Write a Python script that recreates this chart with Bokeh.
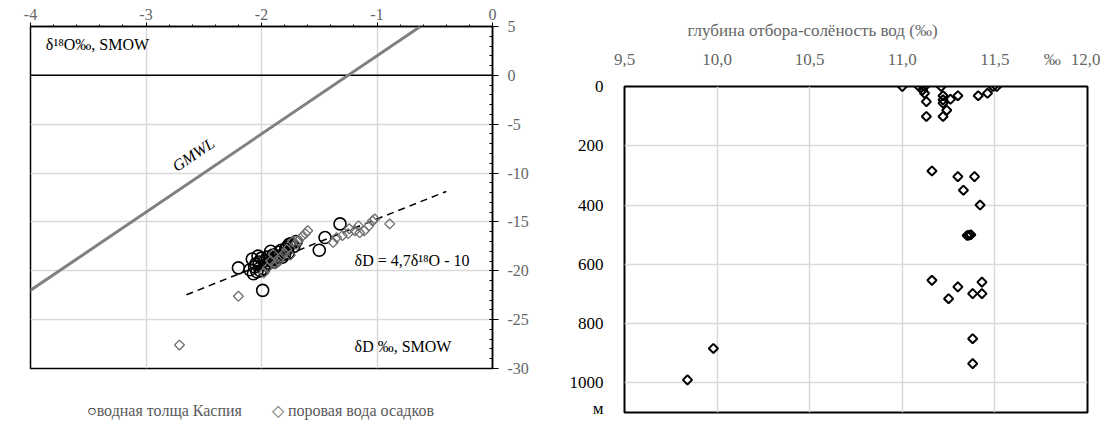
import numpy as np
from bokeh.plotting import figure
from bokeh.models import (Range1d, SingleIntervalTicker, FixedTicker, CustomJSTickFormatter,
                          Slope, Span, Div)
from bokeh.layouts import row, column
from bokeh.embed import file_html
from bokeh.resources import INLINE
from bokeh.core.properties import value

# ---------------- data: left chart (δ18O vs δD) ----------------
caspian_d18o = [-2.20, -1.99, -2.02, -2.05, -2.08, -2.10, -2.03, -2.00, -1.97, -1.95,
                -2.06, -2.04, -1.98, -1.96, -1.93, -1.90, -1.88, -1.85, -1.83, -1.80,
                -1.78, -1.76, -1.74, -1.72, -1.70, -1.50, -1.45, -1.32, -2.07, -2.01,
                -1.94, -1.87, -1.82, -1.79, -1.77, -1.92, -1.89, -1.86]
caspian_dD = [-19.7, -22.0, -19.1, -19.3, -18.8, -19.9, -18.5, -18.7, -19.0, -18.6,
              -19.6, -20.1, -19.8, -19.4, -18.9, -18.4, -18.7, -18.1, -17.9, -18.3,
              -17.6, -17.3, -17.2, -17.5, -17.0, -17.9, -16.6, -15.2, -20.3, -20.0,
              -19.2, -18.9, -18.6, -17.8, -18.2, -18.0, -19.1, -18.5]
pore_d18o = [-2.71, -2.20, -1.98, -1.95, -1.92, -1.90, -1.88, -1.85, -1.83, -1.80,
             -1.78, -1.75, -1.73, -1.70, -1.68, -1.65, -1.62, -1.60, -1.38, -1.35,
             -1.30, -1.25, -1.24, -1.19, -1.16, -1.15, -1.11, -1.07, -1.04, -1.02, -0.89]
pore_dD = [-27.6, -22.6, -20.2, -19.7, -19.0, -18.3, -19.3, -19.0, -18.6, -18.2,
           -17.8, -18.4, -17.0, -17.3, -16.9, -16.5, -16.2, -15.9, -17.1, -16.6,
           -16.4, -16.2, -15.7, -15.9, -15.4, -16.1, -15.9, -15.4, -14.9, -14.7, -15.2]
legend_labels = ["водная толща Каспия", "поровая вода осадков"]

gmwl_slope, gmwl_intercept = 8.0, 10.0
fit_slope, fit_intercept = 4.7, -10.0
fit_x = [-2.65, -0.40]

# ---------------- data: right chart (salinity vs depth) ----------------
salinity = [11.00, 11.09, 11.12, 11.21, 11.49, 11.51, 11.11, 11.12, 11.13, 11.22,
            11.22, 11.22, 11.26, 11.30, 11.41, 11.46, 11.24, 11.13, 11.22, 11.16,
            11.30, 11.39, 11.33, 11.42, 11.36, 11.37, 11.35, 11.16, 11.30, 11.43,
            11.25, 11.38, 11.43, 11.38, 11.38, 9.98, 9.84]
depth = [0, 0, 0, 0, 0, 0, 12, 23, 51, 31,
         45, 56, 43, 31, 31, 23, 80, 101, 101, 285,
         304, 304, 350, 400, 502, 500, 503, 654, 676, 660,
         716, 699, 699, 851, 935, 884, 990]
sal_ticks = [9.5, 10.0, 10.5, 11.0, 11.5, 11.81, 12.0]   # 11.81 carries the "‰" unit mark
depth_ticks = [0, 200, 400, 600, 800, 1000, 1088]         # 1088 carries the "м" unit mark

SERIF = "Liberation Serif"
GRAY_TXT = "#666666"
GRID = "#d9d9d9"

# ================= left figure =================
p1 = figure(width=545, height=395, x_range=Range1d(-4, 0), y_range=Range1d(-30, 5),
            x_axis_location="above", y_axis_location="right",
            output_backend="svg", toolbar_location=None,
            min_border_left=30, min_border_right=53, min_border_top=26, min_border_bottom=27,
            outline_line_color="black", outline_line_width=1.5, background_fill_color="white")

p1.xaxis.ticker = SingleIntervalTicker(interval=1, num_minor_ticks=5)
p1.yaxis.ticker = SingleIntervalTicker(interval=5, num_minor_ticks=5)
for ax in (p1.xaxis, p1.yaxis):
    ax.formatter = CustomJSTickFormatter(code="return tick.toFixed(0);")
    ax.axis_line_color = "black"
    ax.axis_line_width = 1.5
    ax.major_tick_line_color = "black"
    ax.minor_tick_line_color = "black"
    ax.major_label_text_font = SERIF
    ax.major_label_text_font_size = "16px"
    ax.major_label_text_color = GRAY_TXT
p1.xaxis.major_tick_in = 0
p1.xaxis.major_tick_out = 4
p1.xaxis.minor_tick_in = 0
p1.xaxis.minor_tick_out = 2
p1.xaxis.major_label_standoff = 3
p1.yaxis.major_tick_in = 3
p1.yaxis.major_tick_out = 6
p1.yaxis.minor_tick_in = 3
p1.yaxis.minor_tick_out = 0
p1.yaxis.major_label_standoff = 9
p1.grid.grid_line_color = GRID
p1.grid.grid_line_width = 1.5

p1.add_layout(Span(location=0, dimension="width", line_color="black", line_width=1.5))
p1.add_layout(Slope(gradient=gmwl_slope, y_intercept=gmwl_intercept,
                    line_color="#808080", line_width=3))
p1.line(fit_x, [fit_slope * v + fit_intercept for v in fit_x],
        line_color="black", line_width=1.5, line_dash="7 5")

p1.scatter(caspian_d18o, caspian_dD, marker="circle", size=12, fill_color=None,
           line_color="black", line_width=1.6)
p1.scatter(pore_d18o, pore_dD, marker="square", angle=np.pi / 4, size=7,
           fill_color=None, line_color="#6e6e6e", line_width=1.3)

p1.text(x=[-3.867], y=[3.2], text=["δ¹⁸O‰, SMOW"], text_font=value(SERIF),
        text_font_size="16px", text_color="black", text_baseline="middle", text_align="left")
p1.text(x=[-2.59], y=[-8.1], text=["GMWL"], text_font=value(SERIF), text_font_style="italic",
        text_font_size="16px", text_color="black", text_baseline="middle", text_align="center",
        angle=np.deg2rad(34))
p1.text(x=[-1.194], y=[-18.9], text=["δD = 4,7δ¹⁸O  - 10"], text_font=value(SERIF),
        text_font_size="16px", text_color="black", text_baseline="middle", text_align="left")
p1.text(x=[-1.194], y=[-27.7], text=["δD ‰, SMOW"], text_font=value(SERIF),
        text_font_size="16px", text_color="black", text_baseline="middle", text_align="left")

legend_div = Div(
    text=('<div style="font-family:\'Liberation Serif\',serif;font-size:16px;color:#595959;'
          'white-space:nowrap;padding-left:82px;line-height:22px;">'
          '<span style="color:#000">○</span>' + legend_labels[0] +
          '<span style="display:inline-block;width:30px"></span>'
          '<span style="color:#6e6e6e">◇</span> ' + legend_labels[1] + '</div>'),
    width=545, height=24)

# ================= right figure =================
p2 = figure(width=545, height=419, x_range=Range1d(9.5, 12.0), y_range=Range1d(1100, 0),
            x_axis_location="above", output_backend="svg", toolbar_location=None,
            title="глубина отбора-солёность вод (‰)",
            min_border_left=69, min_border_right=13, min_border_top=86, min_border_bottom=7,
            outline_line_color="black", outline_line_width=2, background_fill_color="white")
p2.title.align = "left"
p2.title.offset = 63
p2.title.standoff = 14
p2.title.text_font = SERIF
p2.title.text_font_size = "17px"
p2.title.text_font_style = "normal"
p2.title.text_color = GRAY_TXT

p2.xaxis.ticker = FixedTicker(ticks=sal_ticks)
p2.xaxis.formatter = CustomJSTickFormatter(
    code="if (Math.abs(tick - 11.81) < 0.01) { return '‰'; } return tick.toFixed(1).replace('.', ',');")
p2.yaxis.ticker = FixedTicker(ticks=depth_ticks)
p2.yaxis.formatter = CustomJSTickFormatter(
    code="if (tick > 1050) { return 'м'; } return tick.toFixed(0);")
p2.xgrid.ticker = SingleIntervalTicker(interval=0.5)
p2.ygrid.ticker = SingleIntervalTicker(interval=200)
for ax in (p2.xaxis, p2.yaxis):
    ax.axis_line_color = None
    ax.major_tick_line_color = None
    ax.minor_tick_line_color = None
    ax.major_label_text_font = SERIF
    ax.major_label_text_font_size = "17px"
p2.xaxis.major_label_text_color = GRAY_TXT
p2.yaxis.major_label_text_color = "black"
p2.xaxis.major_label_standoff = 12
p2.yaxis.major_label_standoff = 15
p2.grid.grid_line_color = GRID
p2.grid.grid_line_width = 1.5

p2.scatter(salinity, depth, marker="square", angle=np.pi / 4, size=6.5, fill_color=None,
           line_color="black", line_width=2)

layout = row(column(p1, legend_div), p2)
open("out.html", "w").write(file_html(layout, INLINE))
